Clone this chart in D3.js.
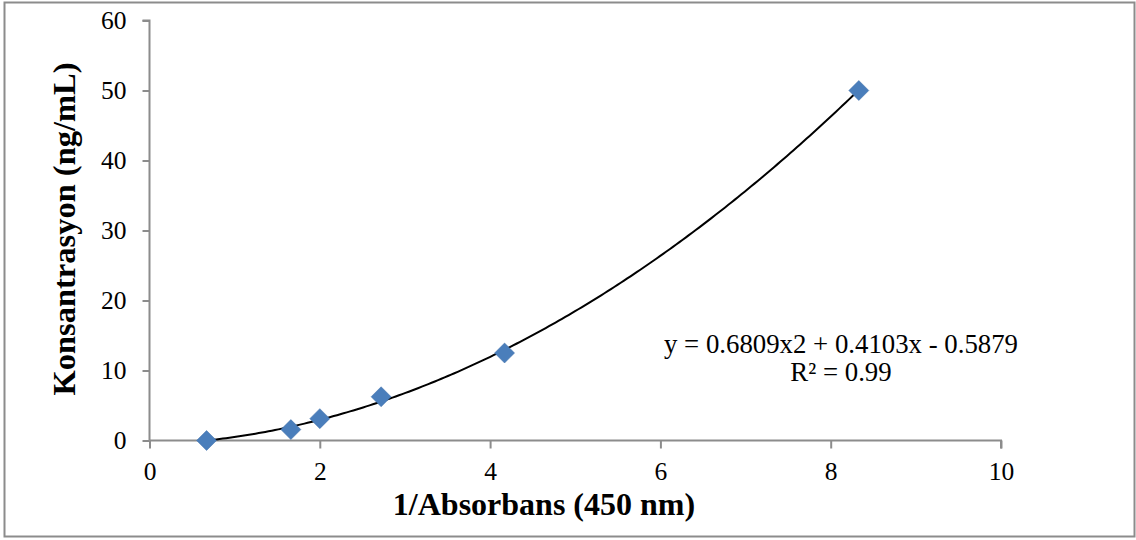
<!DOCTYPE html>
<html>
<head>
<meta charset="utf-8">
<script src="https://cdn.jsdelivr.net/npm/d3@7"></script>
<style>
  body { margin: 0; background: #fff; }
  svg text { font-family: "Liberation Serif", "Times New Roman", serif; fill: #000; }
</style>
</head>
<body>
<div id="chart"></div>
<script>
// data
var absInv = [0.67, 1.66, 2.0, 2.72, 4.17, 8.33];
var konsantrasyon = [0, 1.5625, 3.125, 6.25, 12.5, 50];
var xTicks = [0, 2, 4, 6, 8, 10];
var yTicks = [0, 10, 20, 30, 40, 50, 60];
var coef = [0.6809, 0.4103, -0.5879]; // trendline y = a x^2 + b x + c
var eqLines = ["y = 0.6809x2 + 0.4103x - 0.5879", "R\u00b2 = 0.99"];

var svg = d3.select("#chart").append("svg")
    .attr("width", 1136)
    .attr("height", 540);

// outer frame
svg.append("rect")
   .attr("x", 4.5).attr("y", 2.5)
   .attr("width", 1130).attr("height", 534)
   .attr("fill", "none")
   .attr("stroke", "#8c8c8c")
   .attr("stroke-width", 2);

var x = d3.scaleLinear().domain([0, 10]).range([149.5, 1001]);
var y = d3.scaleLinear().domain([0, 60]).range([440.5, 20.5]);

var axisColor = "#8c8c8c";

var gx = svg.append("g")
    .attr("transform", "translate(0," + y(0) + ")")
    .call(d3.axisBottom(x).tickValues(xTicks).tickSize(8).tickPadding(13).tickFormat(d3.format("d")));
var gy = svg.append("g")
    .attr("transform", "translate(" + x(0) + ",0)")
    .call(d3.axisLeft(y).tickValues(yTicks).tickSize(7).tickPadding(16).tickFormat(d3.format("d")));

[gx, gy].forEach(function(g) {
    g.select(".domain").attr("stroke", axisColor).attr("stroke-width", 2);
    g.selectAll(".tick line").attr("stroke", axisColor).attr("stroke-width", 2);
    g.selectAll(".tick text").attr("font-size", 25.5).attr("font-family", "Liberation Serif").attr("fill", "#000");
});
gx.select(".domain").attr("d", "M" + x(0) + ",0H" + x(10) + "V8");
gy.select(".domain").attr("d", "M-7," + y(60) + "H0V" + y(0));

// trendline
var xs = d3.range(0, 201).map(function(i) {
    return d3.min(absInv) + (d3.max(absInv) - d3.min(absInv)) * i / 200;
});
var line = d3.line()
    .x(function(d) { return x(d); })
    .y(function(d) { return y(coef[0] * d * d + coef[1] * d + coef[2]); });
svg.append("path")
   .datum(xs)
   .attr("fill", "none")
   .attr("stroke", "#000")
   .attr("stroke-width", 2)
   .attr("d", line);

// points
var pts = absInv.map(function(v, i) { return { x: v, y: konsantrasyon[i] }; });
svg.selectAll(".pt")
   .data(pts)
   .enter().append("path")
   .attr("class", "pt")
   .attr("transform", function(d) { return "translate(" + x(d.x) + "," + y(d.y) + ")"; })
   .attr("d", "M0,-10L10,0L0,10L-10,0Z")
   .attr("fill", "#4a7ebb")
   .attr("stroke", "#3f6fa8")
   .attr("stroke-width", 0.5);

// equation
svg.selectAll(".eq")
   .data(eqLines)
   .enter().append("text")
   .attr("class", "eq")
   .attr("x", 841)
   .attr("y", function(d, i) { return 353 + i * 28; })
   .attr("text-anchor", "middle")
   .attr("font-size", 26.8)
   .text(function(d) { return d; });

// axis titles
svg.append("text")
   .attr("x", 544)
   .attr("y", 515)
   .attr("text-anchor", "middle")
   .attr("font-size", 32)
   .attr("font-weight", "bold")
   .text("1/Absorbans (450 nm)");

svg.append("text")
   .attr("transform", "translate(75,229) rotate(-90)")
   .attr("text-anchor", "middle")
   .attr("font-size", 32.5)
   .attr("font-weight", "bold")
   .text("Konsantrasyon (ng/mL)");
</script>
</body>
</html>
